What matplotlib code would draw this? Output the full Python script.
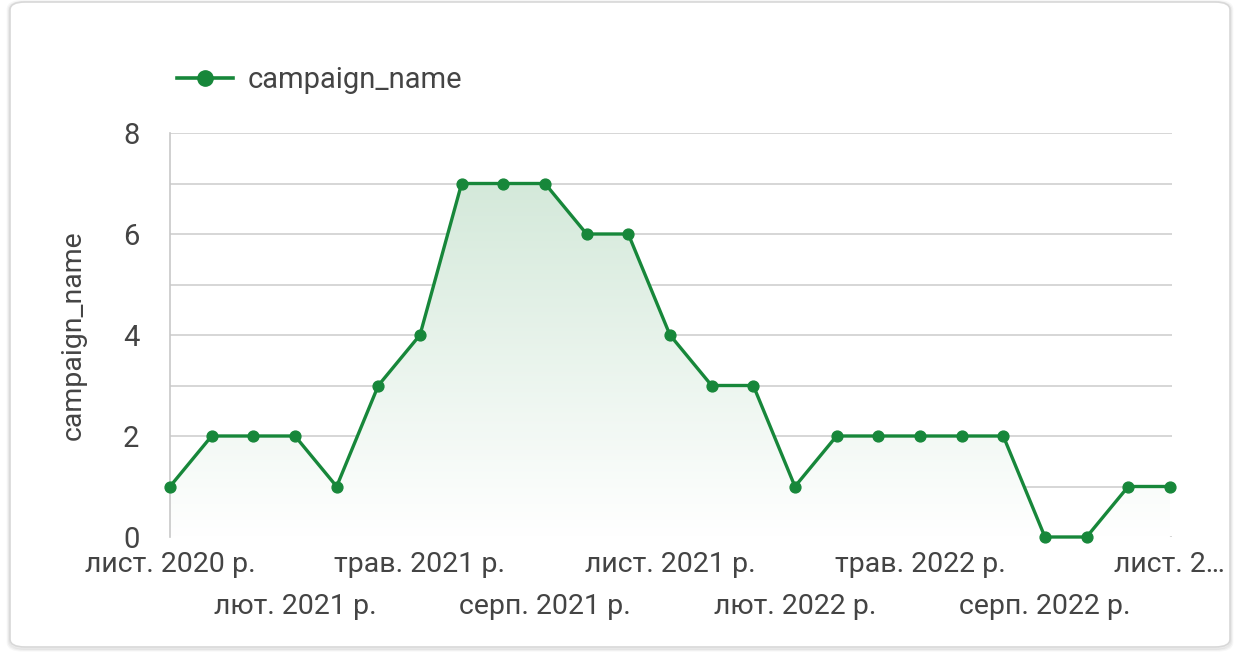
import matplotlib
matplotlib.use("Agg")
import matplotlib.pyplot as plt
import numpy as np
from matplotlib.patches import FancyBboxPatch
from matplotlib.colors import LinearSegmentedColormap

plt.rcParams['font.family'] = ['Roboto', 'DejaVu Sans']

months = ["лист. 2020 р.", "груд. 2020 р.", "січ. 2021 р.", "лют. 2021 р.", "бер. 2021 р.",
          "квіт. 2021 р.", "трав. 2021 р.", "черв. 2021 р.", "лип. 2021 р.", "серп. 2021 р.",
          "вер. 2021 р.", "жовт. 2021 р.", "лист. 2021 р.", "груд. 2021 р.", "січ. 2022 р.",
          "лют. 2022 р.", "бер. 2022 р.", "квіт. 2022 р.", "трав. 2022 р.", "черв. 2022 р.",
          "лип. 2022 р.", "серп. 2022 р.", "вер. 2022 р.", "жовт. 2022 р.", "лист. 2…"]
values = [1, 2, 2, 2, 1, 3, 4, 7, 7, 7, 6, 6, 4, 3, 3, 1, 2, 2, 2, 2, 2, 0, 0, 1, 1]
series_name = "campaign_name"
y_label = "campaign_name"
y_ticks = [0, 2, 4, 6, 8]

green = "#17873a"
text_color = "#444444"
W, H = 1234, 657

fig = plt.figure(figsize=(W / 100, H / 100), dpi=100)
fig.patch.set_facecolor("white")

# card with shadow
for i, a in enumerate([0.05, 0.04, 0.03]):
    sh = FancyBboxPatch((10 / W - i * 0.0008, 10 / H - 0.002 - i * 0.0015),
                        1220 / W + i * 0.0016, 645 / H + i * 0.003,
                        boxstyle="round,pad=0,rounding_size=0.012",
                        transform=fig.transFigure, facecolor="none",
                        edgecolor=(0, 0, 0, a), linewidth=2, zorder=0)
    fig.patches.append(sh)
card = FancyBboxPatch((10 / W, 10 / H), 1220 / W, 645 / H,
                      boxstyle="round,pad=0,rounding_size=0.012",
                      transform=fig.transFigure, facecolor="white",
                      edgecolor="#d8d8d8", linewidth=1.2, zorder=1)
fig.patches.append(card)

ax = fig.add_axes([170 / W, 120 / H, (1172 - 170) / W, (537 - 133) / H])
ax.set_facecolor("none")
ax.set_zorder(2)

x = np.arange(len(values))
ax.set_xlim(0, 24.05)
ax.set_ylim(0, 8)

# gradient fill
cmap = LinearSegmentedColormap.from_list("g", ["#ffffff", "#d4e9da"])
grad = np.linspace(0, 1, 256).reshape(-1, 1)
im = ax.imshow(grad, extent=[0, len(values) - 1, 0, max(values)], origin="lower",
               aspect="auto", cmap=cmap, zorder=1)
poly = ax.fill_between(x, values, 0, color="none")
path = poly.get_paths()[0]
im.set_clip_path(path, transform=ax.transData)

# grid
for yv in range(0, 9):
    ax.axhline(yv, color="#d0d0d0", linewidth=1.2, zorder=0.5)

ax.plot(x, values, color=green, linewidth=2.4, marker="o", markersize=7.8, zorder=3,
        label=series_name, clip_on=False)

for s in ["top", "right", "bottom"]:
    ax.spines[s].set_visible(False)
ax.spines["left"].set_color("#c8c8c8")
ax.spines["left"].set_linewidth(1.2)

ax.set_yticks(y_ticks)
ax.set_yticklabels([str(v) for v in y_ticks], fontsize=21, color=text_color)
ax.tick_params(axis="y", length=0, pad=22)
ax.set_xticks([])

ax.set_ylabel(y_label, fontsize=20.5, color=text_color, labelpad=26)

# x labels every 3 months, staggered
for i in range(0, len(values), 3):
    row = (i // 3) % 2
    ax.text(i, -0.55 - row * 0.83, months[i], ha="center", va="center",
            fontsize=20.5, color=text_color, transform=ax.transData, clip_on=False)

leg = fig.legend(loc="upper left", bbox_to_anchor=(151 / W, 1 - 40 / H), frameon=False,
                 fontsize=21, handlelength=1.9, handletextpad=0.5, labelcolor=text_color)
for h in leg.legend_handles:
    h.set_markersize(11)
    h.set_linewidth(2.6)

fig.savefig("out.png", dpi=100, facecolor="white")
